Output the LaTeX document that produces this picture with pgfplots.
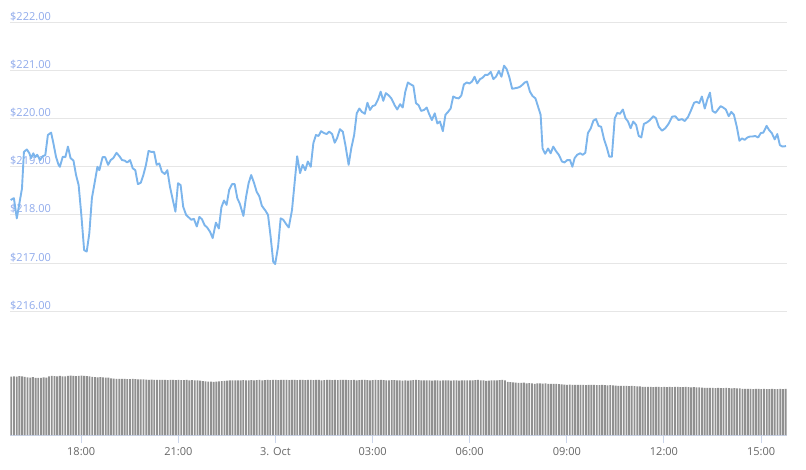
\documentclass[border=0pt]{standalone}
\usepackage{pgfplots}
\pgfplotsset{compat=1.18}
\usepackage{pgfplotstable}
\usepackage{fontspec}
\setmainfont{Open Sans}
\definecolor{linecol}{HTML}{7CB5EC}
\definecolor{gridcol}{HTML}{E6E6E6}
\definecolor{ylabcol}{RGB}{143,170,235}
\definecolor{xlabcol}{HTML}{666666}
\definecolor{barcol}{HTML}{909090}
\definecolor{axcol}{HTML}{CCD6EB}

\pgfplotstableread[header=false,row sep=\\]{
58.3\\ 58.5\\ 58.3\\ 58.8\\ 58.5\\ 58.0\\
57.5\\ 57.3\\ 57.8\\ 57.2\\ 57.0\\ 57.2\\ 57.5\\ 57.3\\
58.5\\ 59.0\\ 58.8\\ 58.5\\ 59.0\\ 58.7\\ 58.5\\ 59.2\\ 59.3\\ 59.0\\ 58.8\\ 59.2\\ 59.3\\ 59.0\\ 58.8\\ 58.6\\
58.0\\ 57.8\\ 57.6\\ 57.8\\ 57.5\\ 57.4\\ 57.3\\
56.5\\ 56.3\\ 56.2\\ 56.0\\ 56.1\\ 56.0\\ 55.8\\ 55.9\\ 56.0\\ 55.8\\ 55.7\\ 55.6\\ 55.5\\
55.3\\ 55.2\\ 55.4\\ 55.0\\ 55.1\\ 55.0\\ 55.2\\ 55.0\\ 54.8\\ 55.0\\ 55.1\\ 54.9\\ 55.0\\ 54.8\\ 54.9\\ 55.0\\ 54.7\\ 54.8\\ 54.6\\ 54.5\\ 54.3\\
53.8\\ 53.5\\ 53.3\\ 53.4\\ 53.2\\ 53.3\\ 53.5\\ 53.8\\ 54.0\\
54.4\\ 54.6\\ 54.5\\ 54.7\\ 54.5\\ 54.6\\ 54.8\\ 54.5\\ 54.7\\ 54.9\\ 54.6\\ 54.8\\ 55.0\\ 54.7\\ 54.9\\ 55.0\\ 54.8\\
55.0\\ 55.1\\ 54.9\\ 55.0\\ 55.2\\ 55.0\\ 54.8\\ 55.0\\ 55.1\\ 54.9\\
55.0\\ 55.1\\ 54.8\\ 55.0\\ 55.0\\ 54.9\\ 55.1\\ 55.0\\ 54.7\\ 54.9\\
55.0\\ 55.1\\ 54.8\\ 55.0\\ 54.9\\ 55.0\\ 55.2\\ 55.0\\ 54.8\\ 54.9\\
55.0\\ 54.7\\ 54.9\\ 55.0\\ 55.1\\ 54.9\\ 54.6\\ 54.8\\ 55.0\\ 54.9\\
55.0\\ 54.8\\ 54.5\\ 54.7\\ 54.9\\ 54.8\\ 54.6\\ 54.7\\
54.3\\ 54.5\\ 54.4\\ 54.6\\ 54.8\\ 55.0\\ 54.9\\ 54.7\\ 54.5\\ 54.6\\ 54.5\\ 54.4\\ 54.6\\ 54.5\\ 54.4\\ 54.6\\ 54.5\\ 54.5\\ 54.4\\ 54.6\\ 54.5\\ 54.4\\ 54.6\\ 54.5\\ 54.7\\ 54.6\\
54.5\\ 54.8\\ 55.0\\ 54.7\\ 54.5\\ 54.2\\ 54.4\\ 54.6\\ 54.5\\ 54.7\\ 54.9\\ 55.0\\ 54.5\\
53.0\\ 52.8\\ 52.5\\ 52.3\\ 52.2\\ 52.0\\ 52.3\\
51.5\\ 51.8\\ 51.5\\ 51.2\\ 51.6\\ 51.5\\ 51.3\\ 51.5\\ 51.2\\ 51.0\\ 51.2\\ 51.0\\ 50.8\\
50.5\\ 50.3\\ 50.2\\ 50.3\\ 50.1\\ 50.0\\ 50.2\\ 50.0\\ 50.1\\ 49.9\\ 50.0\\ 50.2\\ 50.0\\ 49.8\\ 49.9\\ 50.0\\ 49.8\\ 49.7\\ 49.8\\
49.5\\ 49.3\\ 49.2\\ 49.0\\ 49.1\\ 49.0\\ 48.9\\ 49.0\\ 48.8\\ 48.7\\ 48.5\\
48.2\\ 48.0\\ 48.2\\ 48.0\\ 47.9\\ 48.0\\ 48.1\\ 47.9\\ 48.0\\ 47.8\\ 48.0\\ 47.9\\ 48.1\\ 48.0\\ 47.8\\ 47.9\\ 48.0\\ 47.8\\ 47.7\\ 47.8\\ 47.6\\ 47.5\\
47.3\\ 47.2\\ 47.0\\ 47.1\\ 47.0\\ 46.9\\ 47.0\\ 46.8\\ 46.9\\ 47.0\\ 46.8\\ 46.7\\ 46.8\\ 46.6\\ 46.5\\
46.2\\ 46.0\\ 46.1\\ 46.0\\ 45.9\\ 46.0\\ 46.1\\ 45.9\\ 46.0\\ 45.8\\ 45.9\\ 46.0\\ 45.8\\ 45.9\\ 46.0\\ 45.9\\ 46.0\\
}\voltable

\begin{document}
\begin{tikzpicture}
\path[use as bounding box] (0,0) rectangle (806pt,469pt);
% volume axis
\begin{axis}[
  at={(10pt,34pt)}, anchor=south west,
  scale only axis, width=777pt, height=60pt,
  xmin=-8.2, xmax=15.8, ymin=0, ymax=60,
  axis x line*=bottom, axis y line=none,
  x axis line style={color=axcol, line width=1pt, -},
  xtick={-6,-3,0,3,6,9,12,15},
  xticklabels={18:00,21:00,3. Oct,03:00,06:00,09:00,12:00,15:00},
  tick align=outside, major tick length=8pt,
  xtick style={color=axcol, line width=1pt},
  xticklabel style={font=\fontsize{11}{13}\selectfont, text=xlabcol, inner sep=0pt, anchor=north, yshift=-4pt},
  clip=false,
]
\addplot[ybar, bar width=1.85pt, fill=barcol, draw=none]
  table[x expr=\coordindex/12-8.16, y index=0] {\voltable};
\end{axis}
% price axis
\begin{axis}[
  at={(10pt,157.7pt)}, anchor=south west,
  scale only axis, width=777pt, height=289pt,
  xmin=-8.2, xmax=15.8, ymin=216, ymax=222,
  axis line style={draw=none},
  xtick=\empty,
  ytick={216,217,218,219,220,221,222},
  yticklabels={\$216.00,\$217.00,\$218.00,\$219.00,\$220.00,\$221.00,\$222.00},
  ymajorgrids, major grid style={color=gridcol, line width=1pt},
  ytick style={draw=none},
  yticklabel style={font=\fontsize{11}{13}\selectfont, text=ylabcol, inner sep=0pt, anchor=base west, yshift=2pt},
  clip=false,
]
\addplot[color=linecol, line width=1.9pt, line join=round, mark=none] coordinates {
(-8.18,218.31) (-8.08,218.35) (-7.99,217.93) (-7.91,218.24) (-7.83,218.55) (-7.77,219.31) (-7.68,219.36) (-7.60,219.28) (-7.55,219.18) (-7.48,219.28)
(-7.42,219.20) (-7.36,219.25) (-7.27,219.14) (-7.19,219.22) (-7.11,219.24) (-7.03,219.66) (-6.93,219.71) (-6.86,219.49) (-6.78,219.21) (-6.70,219.04)
(-6.66,219.00) (-6.57,219.21) (-6.49,219.20) (-6.41,219.42) (-6.33,219.18) (-6.24,219.13) (-6.16,218.83) (-6.08,218.62) (-6.00,218.03) (-5.91,217.27)
(-5.83,217.24) (-5.75,217.62) (-5.67,218.35) (-5.58,218.69) (-5.50,219.00) (-5.44,218.93) (-5.34,219.20) (-5.26,219.20) (-5.17,219.04) (-5.09,219.14)
(-5.01,219.18) (-4.91,219.29) (-4.82,219.22) (-4.74,219.14) (-4.66,219.13) (-4.58,219.09) (-4.49,219.14) (-4.41,218.97) (-4.33,218.93) (-4.25,218.64)
(-4.16,218.67) (-4.08,218.83) (-4.00,219.04) (-3.92,219.33) (-3.84,219.31) (-3.75,219.31) (-3.67,219.04) (-3.59,219.07) (-3.51,218.90) (-3.42,218.85)
(-3.34,218.93) (-3.26,218.59) (-3.17,218.31) (-3.09,218.07) (-3.01,218.66) (-2.93,218.62) (-2.85,218.17) (-2.76,218.00) (-2.68,217.95) (-2.60,217.90)
(-2.52,217.92) (-2.43,217.76) (-2.35,217.96) (-2.27,217.91) (-2.19,217.79) (-2.11,217.74) (-2.02,217.65) (-1.94,217.52) (-1.84,217.84) (-1.75,217.72)
(-1.67,218.16) (-1.59,218.30) (-1.51,218.21) (-1.43,218.52) (-1.34,218.64) (-1.26,218.64) (-1.18,218.35) (-1.10,218.23) (-0.99,217.98) (-0.91,218.37)
(-0.83,218.66) (-0.75,218.83) (-0.66,218.66) (-0.58,218.48) (-0.50,218.39) (-0.42,218.19) (-0.31,218.09) (-0.23,218.00) (-0.15,217.55) (-0.07,217.03)
(-0.01,216.98) (0.08,217.34) (0.16,217.93) (0.24,217.90) (0.33,217.81) (0.41,217.74) (0.51,218.10) (0.59,218.66) (0.67,219.22) (0.76,218.87)
(0.84,219.04) (0.92,218.93) (1.00,219.11) (1.09,219.00) (1.17,219.49) (1.25,219.66) (1.33,219.64) (1.41,219.74) (1.50,219.70) (1.58,219.68)
(1.66,219.73) (1.75,219.68) (1.83,219.50) (1.90,219.59) (1.99,219.78) (2.08,219.73) (2.16,219.45) (2.26,219.04) (2.34,219.38) (2.43,219.66)
(2.51,220.11) (2.59,220.21) (2.67,220.14) (2.76,220.10) (2.84,220.33) (2.92,220.18) (3.00,220.26) (3.08,220.28) (3.17,220.40) (3.25,220.56)
(3.33,220.37) (3.41,220.53) (3.50,220.48) (3.58,220.42) (3.68,220.28) (3.76,220.19) (3.85,220.30) (3.93,220.23) (4.01,220.56) (4.09,220.75)
(4.18,220.71) (4.26,220.68) (4.34,220.32) (4.42,220.28) (4.50,220.16) (4.59,220.18) (4.67,220.23) (4.75,220.09) (4.83,219.97) (4.92,220.11)
(5.00,219.90) (5.08,219.94) (5.17,219.74) (5.25,220.08) (5.33,220.14) (5.41,220.21) (5.49,220.46) (5.58,220.43) (5.66,220.42) (5.74,220.48)
(5.82,220.71) (5.91,220.75) (5.99,220.73) (6.07,220.77) (6.15,220.87) (6.23,220.73) (6.32,220.82) (6.40,220.85) (6.48,220.91) (6.56,220.91)
(6.65,220.97) (6.73,220.82) (6.81,220.87) (6.90,220.99) (6.98,220.87) (7.06,221.10) (7.14,221.03) (7.22,220.87) (7.31,220.62) (7.39,220.63)
(7.47,220.64) (7.55,220.66) (7.64,220.71) (7.70,220.75) (7.77,220.77) (7.86,220.56) (7.94,220.47) (8.03,220.42) (8.11,220.25) (8.19,220.08)
(8.25,219.38) (8.33,219.27) (8.42,219.38) (8.50,219.28) (8.58,219.42) (8.66,219.33) (8.75,219.25) (8.85,219.11) (8.93,219.09) (9.01,219.14)
(9.10,219.14) (9.17,219.00) (9.24,219.18) (9.32,219.25) (9.41,219.28) (9.49,219.25) (9.57,219.29) (9.65,219.70) (9.74,219.80) (9.82,219.96)
(9.90,219.99) (9.98,219.85) (10.06,219.83) (10.15,219.57) (10.23,219.41) (10.31,219.21) (10.39,219.21) (10.48,220.01) (10.56,220.12) (10.64,220.10)
(10.73,220.19) (10.81,220.01) (10.89,219.94) (10.97,219.80) (11.05,219.94) (11.14,219.87) (11.22,219.64) (11.30,219.61) (11.38,219.89) (11.47,219.92)
(11.55,219.96) (11.67,220.05) (11.75,220.01) (11.84,219.83) (11.94,219.75) (12.04,219.80) (12.15,219.90) (12.25,220.04) (12.35,220.05) (12.45,219.97)
(12.56,219.99) (12.64,219.95) (12.74,220.03) (12.84,220.18) (12.93,220.33) (13.01,220.35) (13.09,220.32) (13.17,220.46) (13.26,220.21) (13.34,220.40)
(13.42,220.54) (13.50,220.16) (13.59,220.12) (13.67,220.19) (13.75,220.26) (13.83,220.23) (13.91,220.19) (14.00,220.05) (14.08,220.14) (14.16,220.08)
(14.25,219.83) (14.33,219.54) (14.41,219.59) (14.49,219.56) (14.58,219.61) (14.66,219.63) (14.74,219.63) (14.82,219.64) (14.91,219.61) (14.99,219.70)
(15.07,219.71) (15.17,219.85) (15.25,219.76) (15.33,219.70) (15.42,219.57) (15.50,219.68) (15.58,219.45) (15.66,219.42) (15.77,219.43)
};
\end{axis}
\end{tikzpicture}
\end{document}
